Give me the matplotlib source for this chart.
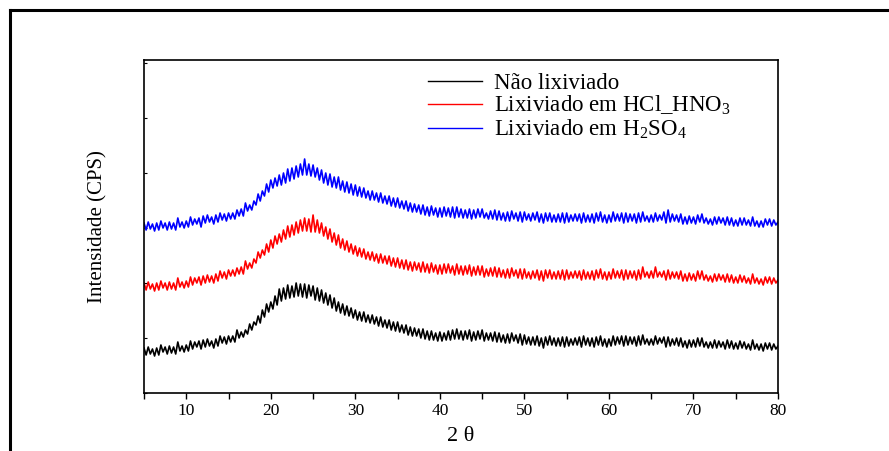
import numpy as np
import matplotlib
matplotlib.use("Agg")
import matplotlib.pyplot as plt
from matplotlib.ticker import MultipleLocator
from matplotlib.lines import Line2D

plt.rcParams['font.family'] = ['Liberation Serif', 'DejaVu Serif']
plt.rcParams['mathtext.fontset'] = 'custom'
plt.rcParams['mathtext.rm'] = 'Liberation Serif'
plt.rcParams['mathtext.it'] = 'Liberation Serif:italic'

# 2-theta scan grid (degrees)
two_theta = np.linspace(5, 80, 301)

# Intensities (arbitrary units, stacked), 4 readings per degree
nao_lixiviado = [
    45, 38, 46, 39, 44, 37, 45, 38, 48, 41, 46, 39, 47, 40, 46, 39, 51, 42, 47, 41,
    48, 42, 52, 44, 51, 46, 52, 44, 53, 46, 54, 47, 52, 45, 54, 47, 57, 50, 56, 49,
    57, 51, 57, 51, 63, 55, 61, 56, 63, 59, 69, 63, 71, 68, 77, 70, 83, 76, 89, 81,
    91, 84, 97, 88, 104, 92, 105, 94, 108, 95, 107, 96, 110, 97, 109, 96, 109, 95, 108, 97,
    107, 93, 105, 92, 103, 90, 100, 88, 98, 85, 95, 82, 91, 80, 89, 78, 87, 77, 85, 75,
    83, 73, 81, 72, 81, 71, 78, 70, 78, 69, 76, 67, 76, 66, 73, 65, 73, 63, 71, 62,
    71, 61, 68, 60, 68, 58, 66, 57, 65, 57, 64, 55, 64, 54, 62, 53, 62, 53, 60, 52,
    61, 52, 60, 53, 62, 53, 63, 54, 64, 54, 62, 53, 62, 54, 63, 52, 61, 53, 62, 54,
    63, 52, 60, 53, 60, 52, 61, 51, 60, 51, 58, 50, 59, 50, 60, 52, 58, 50, 59, 48,
    58, 49, 56, 48, 56, 48, 57, 47, 55, 45, 56, 48, 57, 48, 55, 47, 55, 47, 56, 46,
    56, 47, 54, 48, 55, 48, 56, 46, 57, 48, 55, 47, 55, 46, 56, 48, 57, 47, 54, 46,
    54, 47, 57, 48, 56, 49, 57, 47, 57, 48, 56, 49, 56, 47, 57, 48, 58, 49, 54, 48,
    54, 48, 57, 49, 55, 50, 56, 46, 56, 47, 54, 48, 55, 47, 55, 46, 52, 45, 53, 46,
    53, 46, 55, 47, 55, 46, 51, 45, 51, 45, 53, 45, 52, 46, 51, 44, 53, 45, 52, 44,
    50, 44, 52, 45, 51, 44, 49, 43, 53, 44, 49, 43, 49, 42, 50, 44, 50, 43, 49, 44,
    47,
]

lixiviado_hcl_hno3 = [
    110, 103, 111, 104, 109, 102, 110, 103, 112, 105, 110, 103, 111, 104, 110, 103, 115, 106, 111, 105,
    112, 106, 116, 108, 115, 110, 116, 108, 117, 110, 118, 111, 117, 110, 119, 112, 122, 115, 121, 114,
    123, 117, 123, 117, 125, 119, 126, 119, 132, 124, 130, 125, 134, 130, 141, 135, 143, 138, 149, 141,
    153, 145, 157, 149, 159, 151, 163, 154, 167, 156, 168, 158, 171, 160, 173, 162, 175, 162, 174, 161,
    178, 161, 173, 160, 170, 157, 166, 154, 164, 151, 160, 148, 158, 145, 154, 143, 152, 141, 149, 139,
    147, 137, 145, 136, 144, 134, 141, 133, 141, 132, 139, 130, 139, 130, 137, 129, 137, 127, 135, 126,
    135, 125, 133, 124, 133, 123, 131, 122, 131, 123, 130, 121, 131, 121, 129, 120, 130, 121, 128, 119,
    128, 119, 129, 120, 129, 120, 127, 118, 129, 119, 127, 118, 127, 119, 128, 117, 126, 118, 127, 118,
    127, 116, 124, 117, 125, 117, 126, 116, 125, 116, 123, 115, 124, 115, 125, 117, 123, 115, 124, 114,
    124, 115, 121, 114, 122, 115, 123, 113, 122, 112, 123, 115, 123, 114, 121, 114, 122, 114, 123, 113,
    123, 114, 121, 115, 122, 115, 122, 113, 123, 114, 121, 114, 122, 113, 123, 115, 124, 114, 121, 113,
    121, 114, 124, 115, 122, 115, 123, 113, 123, 114, 122, 115, 122, 113, 123, 114, 126, 116, 121, 115,
    122, 115, 126, 116, 121, 116, 122, 113, 123, 114, 121, 115, 121, 114, 122, 112, 119, 112, 120, 113,
    119, 112, 122, 114, 122, 113, 118, 112, 117, 111, 119, 112, 119, 113, 118, 111, 119, 111, 118, 110,
    116, 110, 118, 111, 117, 110, 115, 109, 119, 110, 115, 109, 114, 108, 116, 110, 116, 109, 115, 110,
    113,
]

lixiviado_h2so4 = [
    170, 163, 171, 164, 169, 162, 170, 163, 172, 165, 170, 163, 171, 164, 170, 163, 175, 166, 171, 165,
    172, 166, 176, 168, 174, 169, 175, 166, 177, 170, 178, 171, 176, 169, 178, 171, 180, 173, 179, 172,
    180, 174, 180, 174, 183, 177, 184, 177, 190, 182, 188, 183, 192, 188, 199, 192, 202, 197, 209, 201,
    213, 205, 215, 207, 218, 208, 220, 210, 224, 212, 225, 214, 227, 216, 229, 218, 234, 218, 229, 217,
    228, 216, 225, 213, 223, 210, 220, 208, 219, 206, 216, 205, 216, 203, 212, 201, 211, 200, 209, 198,
    208, 197, 206, 196, 205, 195, 202, 193, 202, 193, 200, 191, 200, 190, 197, 189, 197, 187, 195, 186,
    195, 185, 192, 184, 192, 182, 190, 181, 189, 181, 188, 179, 188, 178, 186, 177, 187, 178, 185, 176,
    185, 176, 186, 177, 185, 176, 186, 175, 186, 176, 184, 175, 183, 175, 184, 174, 183, 175, 184, 176,
    184, 175, 180, 174, 182, 174, 183, 173, 182, 173, 180, 172, 181, 172, 182, 174, 180, 172, 181, 171,
    181, 173, 179, 172, 180, 173, 181, 171, 179, 170, 180, 172, 180, 171, 178, 171, 179, 171, 180, 170,
    180, 171, 178, 172, 179, 172, 179, 170, 180, 171, 178, 171, 179, 170, 180, 172, 181, 171, 178, 170,
    178, 171, 181, 172, 179, 172, 180, 170, 180, 171, 179, 172, 179, 170, 180, 171, 181, 172, 177, 171,
    178, 171, 180, 172, 178, 173, 181, 170, 183, 171, 179, 172, 178, 171, 179, 169, 176, 169, 177, 170,
    176, 169, 178, 171, 179, 170, 175, 169, 174, 168, 176, 169, 176, 170, 175, 168, 176, 168, 175, 167,
    173, 167, 175, 168, 175, 168, 173, 167, 176, 167, 172, 166, 172, 166, 174, 168, 174, 167, 173, 168,
    171,
]

labels = ['Não lixiviado', 'Lixiviado em HCl_HNO$_3$', 'Lixiviado em H$_2$SO$_4$']
colors = ['#000000', '#ff0000', '#0000ff']
series = [nao_lixiviado, lixiviado_hcl_hno3, lixiviado_h2so4]

fig = plt.figure(figsize=(8.89, 4.51), dpi=100)
ax = fig.add_axes([144/889, 58/451, 634/889, 333/451])

for y, c, lab in zip(series, colors, labels):
    ax.plot(two_theta, y, color=c, lw=1.2, label=lab)

ax.set_xlim(5, 80)
ax.set_ylim(0, 333)
ax.xaxis.set_major_locator(MultipleLocator(10))
ax.xaxis.set_minor_locator(MultipleLocator(5))
ax.yaxis.set_major_locator(MultipleLocator(55))
ax.tick_params(axis='x', which='both', direction='out', length=4, width=1, labelsize=12.5, pad=3)
ax.tick_params(axis='y', which='both', direction='in', length=2.5, width=0.8, labelleft=False)
for s in ax.spines.values():
    s.set_linewidth(1.2)
ax.set_xticks([10, 20, 30, 40, 50, 60, 70, 80])

ax.set_xlabel('2 θ', fontsize=16, labelpad=6)
ax.set_ylabel('Intensidade (CPS)', fontsize=15, labelpad=26)

leg = ax.legend(loc='upper left', bbox_to_anchor=((428-144)/634, 0.962), frameon=False,
                fontsize=16.5, handlelength=2.35, handletextpad=0.55, labelspacing=0.02,
                borderpad=0, borderaxespad=0)
for line in leg.get_lines():
    line.set_linewidth(1.0)

# outer frame lines
fig.add_artist(Line2D([10/889, 1.0], [1 - 10/451, 1 - 10/451], transform=fig.transFigure,
                      color='black', lw=2.2))
fig.add_artist(Line2D([10/889, 10/889], [0.0, 1 - 10/451], transform=fig.transFigure,
                      color='black', lw=2.2))

fig.savefig('out.png', dpi=100)
